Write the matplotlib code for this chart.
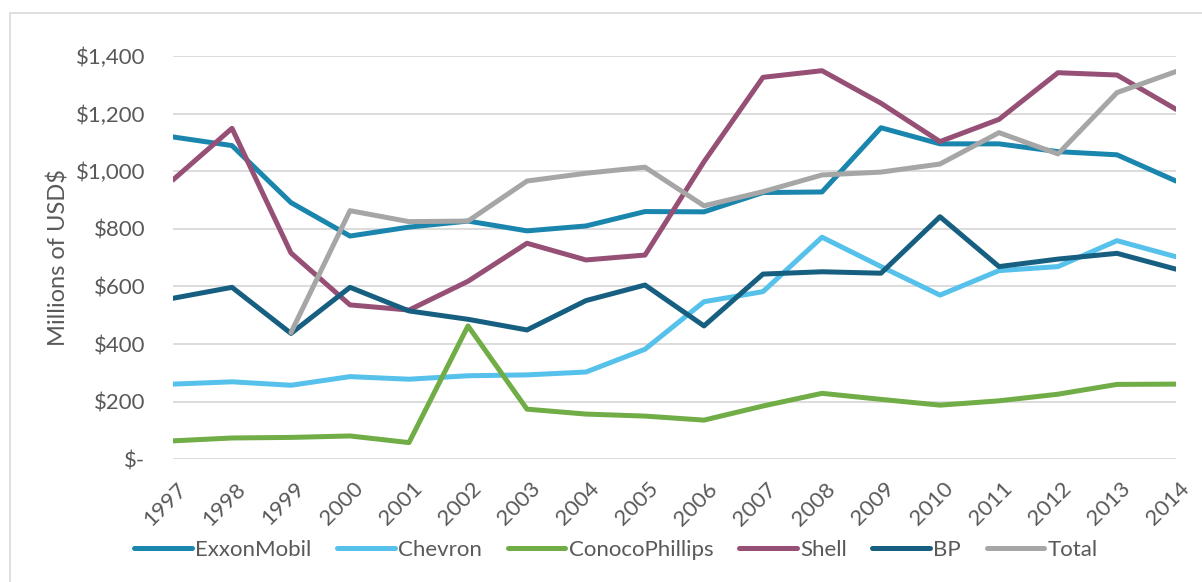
import matplotlib.pyplot as plt
import numpy as np
from matplotlib.patches import Rectangle
from matplotlib.ticker import FuncFormatter
from matplotlib.transforms import ScaledTranslation

years = list(range(1997, 2015))

# values in millions of USD
exxon = [1119, 1089, 891, 775, 806, 827, 793, 810, 860, 859, 926, 928, 1151, 1095, 1095, 1068, 1057, 966]
chevron = [261, 269, 257, 287, 278, 290, 293, 303, 382, 547, 582, 771, 669, 570, 655, 669, 759, 703]
conoco = [64, 74, 76, 81, 58, 463, 174, 157, 150, 136, 185, 229, 208, 188, 203, 226, 260, 261]
shell = [970, 1149, 716, 536, 518, 618, 750, 692, 709, 1033, 1326, 1349, 1236, 1103, 1180, 1342, 1334, 1215]
bp = [559, 597, 437, 597, 515, 486, 449, 551, 605, 463, 643, 651, 646, 842, 669, 695, 715, 660]
total = [np.nan, np.nan, 440, 863, 825, 827, 966, 993, 1014, 880, 929, 987, 997, 1025, 1134, 1060, 1273, 1346]

series = [
    ("ExxonMobil", exxon, "#1a86ae"),
    ("Chevron", chevron, "#56c1ea"),
    ("ConocoPhillips", conoco, "#70ad47"),
    ("Shell", shell, "#975075"),
    ("BP", bp, "#175f80"),
    ("Total", total, "#a6a6a6"),
]

plt.rcParams['font.family'] = ['Lato', 'DejaVu Sans']
text_color = "#595959"
grid_color = "#d9d9d9"

fig = plt.figure(figsize=(12.02, 5.82), dpi=100)
ax = fig.add_axes([173 / 1202, 1 - 459.3 / 582, 1003 / 1202, (459.3 - 56) / 582])

# outer chart border (cropped on the right and bottom)
fig.patches.append(Rectangle((10 / 1202, -0.1), 1.2, 0.1 + (1 - 13 / 582),
                             transform=fig.transFigure, fill=False,
                             edgecolor=grid_color, linewidth=1.2))

for name, vals, col in series:
    ax.plot(years, vals, color=col, linewidth=3.6, label=name,
            solid_capstyle='round', solid_joinstyle='round')

ax.set_xlim(1997, 2014)
ax.set_ylim(0, 1400)
ax.set_yticks(range(0, 1401, 200))
ax.set_xticks(years)
ax.yaxis.set_major_formatter(FuncFormatter(lambda v, p: "$-" if v == 0 else "${:,.0f}".format(v)))
ax.grid(axis='y', color=grid_color, linewidth=1.3)
ax.set_axisbelow(True)
for s in ax.spines.values():
    s.set_visible(False)
ax.tick_params(axis='both', length=0, colors=text_color, labelsize=16)
ax.tick_params(axis='y', pad=20)
ax.tick_params(axis='x', pad=14)
shift = ScaledTranslation(3 / 100, 0, fig.dpi_scale_trans)
for lbl in ax.get_xticklabels():
    lbl.set_rotation(45)
    lbl.set_ha('right')
    lbl.set_va('top')
    lbl.set_rotation_mode('anchor')
    lbl.set_transform(lbl.get_transform() + shift)

ax.set_ylabel("Millions of USD$", color=text_color, fontsize=17)
ax.yaxis.set_label_coords(-0.103, 0.5)

fig.legend(loc='center', bbox_to_anchor=(616 / 1202, 1 - 550 / 582), ncol=6,
           frameon=False, fontsize=16, handlelength=2.6, handletextpad=0.15,
           columnspacing=1.15, labelcolor=text_color)

fig.savefig("out.png", dpi=100)
